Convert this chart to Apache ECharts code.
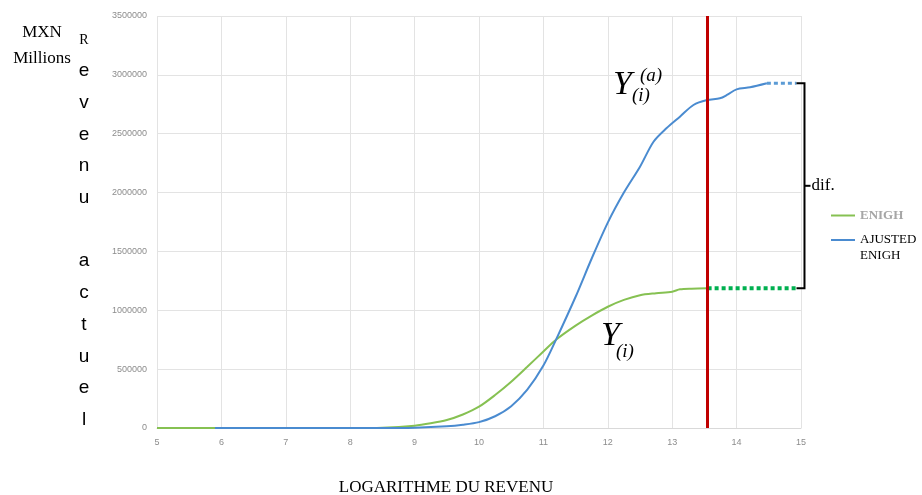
<!DOCTYPE html>
<html>
<head>
<meta charset="utf-8">
<script src="https://cdn.jsdelivr.net/npm/echarts@6/dist/echarts.min.js"></script>
<style>
  html, body { margin: 0; padding: 0; background: #fff; }
  #chart { width: 922px; height: 495px; }
</style>
</head>
<body>
<div id="chart"></div>
<script>
// Log of revenue (x) against cumulative revenue (MXN millions)
const enighX = [5.0, 5.9, 8.0, 8.5, 9.0, 9.25, 9.5, 9.75, 10.0, 10.25, 10.5, 10.75, 11.0, 11.2, 11.5, 11.75, 12.0, 12.25, 12.5, 12.75, 13.0, 13.12, 13.3, 13.55];
const enighY = [0, 0, 0, 3000, 20000, 40000, 68000, 115000, 181000, 280000, 393000, 520000, 650000, 752000, 870000, 955000, 1030000, 1088000, 1128000, 1145000, 1158000, 1178000, 1184000, 1187000];

const ajustX = [5.9, 8.5, 9.0, 9.5, 9.75, 10.0, 10.25, 10.5, 10.75, 11.0, 11.2, 11.5, 11.75, 12.0, 12.25, 12.5, 12.71, 12.91, 13.12, 13.33, 13.54, 13.74, 13.85, 14.0, 14.21, 14.47];
const ajustY = [0, 0, 3000, 15000, 28000, 50000, 100000, 185000, 325000, 530000, 755000, 1115000, 1440000, 1745000, 2000000, 2220000, 2432000, 2546000, 2645000, 2744000, 2786000, 2801000, 2829000, 2877000, 2894000, 2928000];

// Flat extensions to the end of the range
const extendEnd = 14.93;
const cutoff = 13.55;           // vertical reference line

const xTicks = [5, 15, 1];      // min, max, interval
const yTicks = [0, 3500000, 500000];

const sideWord = ['e', 'v', 'e', 'n', 'u', '', 'a', 'c', 't', 'u', 'e', 'l'];

const pairs = (xs, ys) => xs.map((x, i) => [x, ys[i]]);
const enighLast = enighY[enighY.length - 1];
const ajustLast = ajustY[ajustY.length - 1];

const chart = echarts.init(document.getElementById('chart'), null, { renderer: 'canvas' });

const labelStyle = { color: '#8c8c8c', fontSize: 9, fontFamily: 'Liberation Sans, Arial, sans-serif' };
const serif = 'Liberation Serif, Times New Roman, serif';

chart.setOption({
  animation: false,
  backgroundColor: '#ffffff',
  grid: { left: 157, right: 121, top: 16, bottom: 67, containLabel: false },
  xAxis: {
    type: 'value', min: xTicks[0], max: xTicks[1], interval: xTicks[2],
    axisLine: { show: true, lineStyle: { color: '#d9d9d9' } },
    axisTick: { show: false },
    axisLabel: Object.assign({ margin: 10 }, labelStyle),
    splitLine: { show: true, lineStyle: { color: '#e3e3e3' } }
  },
  yAxis: {
    type: 'value', min: yTicks[0], max: yTicks[1], interval: yTicks[2],
    axisLine: { show: false },
    axisTick: { show: false },
    axisLabel: Object.assign({ margin: 10, formatter: v => String(v) }, labelStyle),
    splitLine: { show: true, lineStyle: { color: '#e3e3e3' } }
  },
  legend: [
    {
      left: 826, top: 204, orient: 'vertical',
      itemWidth: 24, itemHeight: 2, icon: 'rect',
      data: [{ name: 'ENIGH' }],
      textStyle: { color: '#a6a6a6', fontWeight: 'bold', fontFamily: serif, fontSize: 13 }
    },
    {
      // blank leading line keeps the marker level with the first line of the name
      left: 826, top: 211, orient: 'vertical',
      itemWidth: 24, itemHeight: 2, icon: 'rect',
      data: [{ name: 'AJUSTED\nENIGH' }],
      formatter: name => '\n' + name,
      textStyle: { color: '#000', fontFamily: serif, fontSize: 13, lineHeight: 16 }
    }
  ],
  series: [
    {
      name: 'ENIGH', type: 'line', data: pairs(enighX, enighY),
      showSymbol: false, smooth: 0.3, color: '#86c152',
      lineStyle: { width: 2, color: '#86c152' }, z: 2
    },
    {
      name: 'AJUSTED\nENIGH', type: 'line', data: pairs(ajustX, ajustY),
      showSymbol: false, smooth: 0.3, color: '#4a8bd0',
      lineStyle: { width: 2, color: '#4a8bd0' }, z: 3,
      markLine: {
        silent: true, symbol: 'none', label: { show: false },
        lineStyle: { color: '#c00000', width: 3, type: 'solid' },
        data: [{ xAxis: cutoff }]
      }
    },
    {
      name: 'enigh-ext', type: 'line', data: [[enighX[enighX.length - 1], enighLast], [extendEnd, enighLast]],
      showSymbol: false, lineStyle: { width: 4, color: '#00b050', type: [4, 3] }, z: 4
    },
    {
      name: 'ajust-ext', type: 'line', data: [[ajustX[ajustX.length - 1], ajustLast], [extendEnd, ajustLast]],
      showSymbol: false, lineStyle: { width: 3, color: '#5b9bd5', type: [4, 3] }, z: 4
    }
  ]
});

// Annotations positioned from data coordinates
const toPx = (x, y) => chart.convertToPixel({ gridIndex: 0 }, [x, y]);
const pTop = toPx(extendEnd, ajustLast);
const pBot = toPx(extendEnd, enighLast);
const bx = pTop[0] + 8;
const midY = (pTop[1] + pBot[1]) / 2;

const g = [];
const txt = (x, y, text, font, align) => g.push({
  type: 'text', x: x, y: y, z: 10,
  style: { text: text, font: font, fill: '#000', textAlign: align || 'left', textVerticalAlign: 'middle' }
});

// bracket between the two plateaus
g.push({ type: 'polyline', shape: { points: [[pTop[0], pTop[1]], [bx, pTop[1]], [bx, pBot[1]], [pBot[0], pBot[1]]] },
  style: { stroke: '#000', lineWidth: 2, fill: null }, z: 10 });
g.push({ type: 'line', shape: { x1: bx, y1: midY, x2: bx + 6, y2: midY }, style: { stroke: '#000', lineWidth: 2 }, z: 10 });
txt(bx + 7, midY, 'dif.', '17px ' + serif);

// curve labels Y_(i)^(a) and Y_(i)
txt(613, 85, 'Y', 'italic 34px ' + serif);
txt(640, 76, '(a)', 'italic 19px ' + serif);
txt(632, 96, '(i)', 'italic 19px ' + serif);
txt(601, 336, 'Y', 'italic 34px ' + serif);
txt(616, 352, '(i)', 'italic 19px ' + serif);

// unit label and vertical axis word
txt(42, 33, 'MXN', '17px ' + serif, 'center');
txt(42, 59, 'Millions', '17px ' + serif, 'center');
txt(84, 40, 'R', '14px ' + serif, 'center');
sideWord.forEach((ch, i) => {
  if (ch) txt(84, 71 + i * 31.7, ch, '19px Liberation Sans, Arial, sans-serif', 'center');
});

// x axis title
txt(446, 488, 'LOGARITHME DU REVENU', '17px ' + serif, 'center');

chart.setOption({ graphic: g });
</script>
</body>
</html>
